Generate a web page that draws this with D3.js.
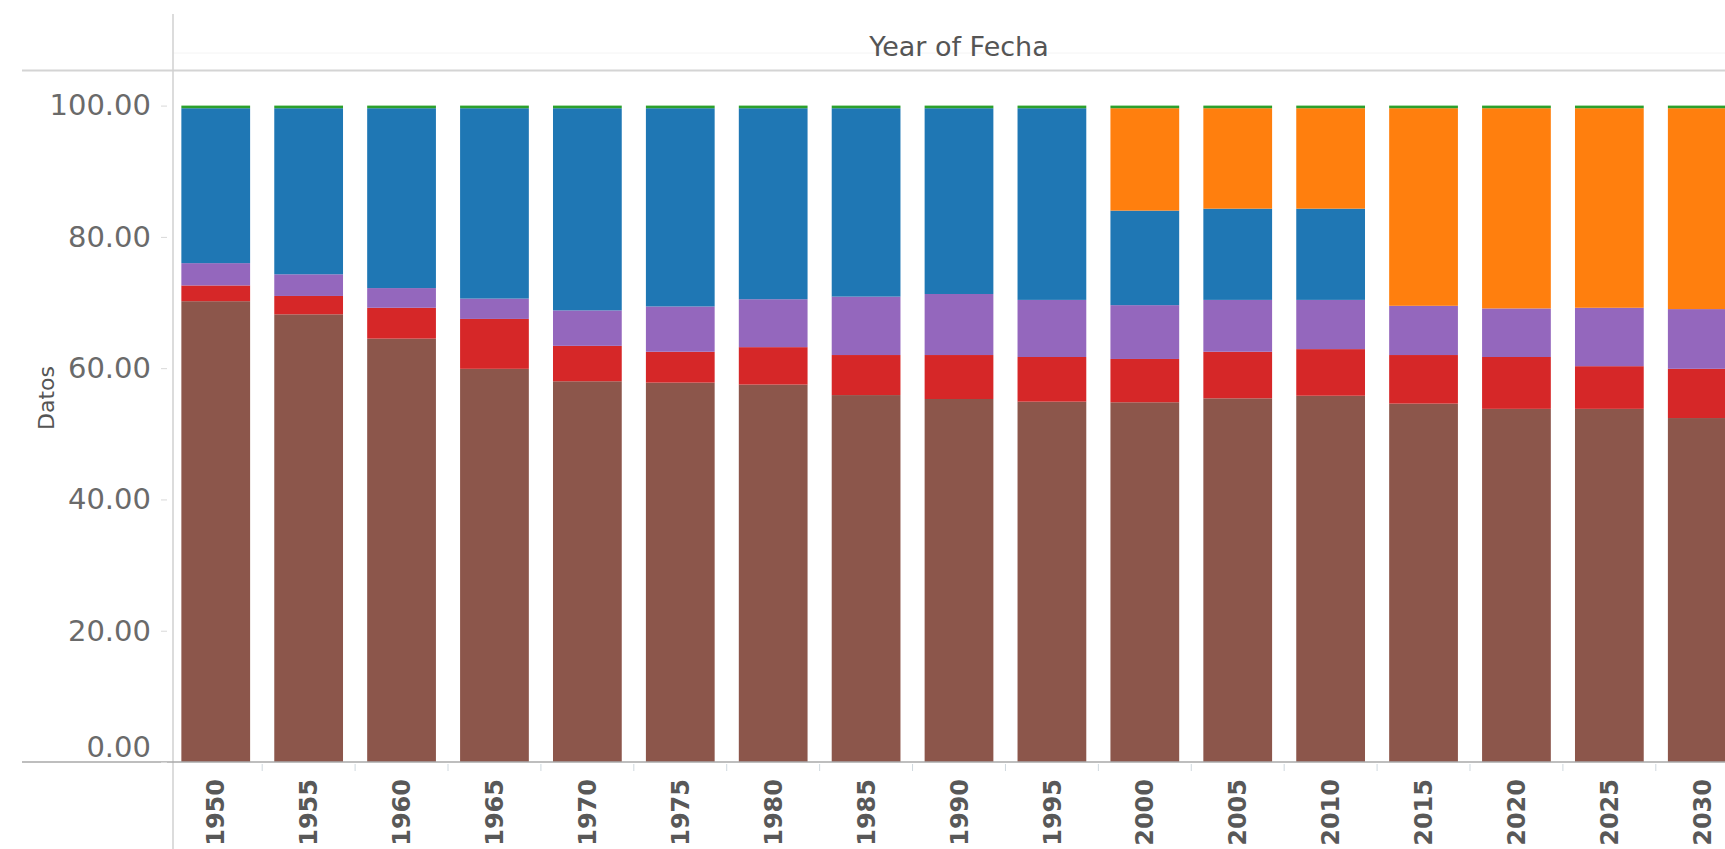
<!DOCTYPE html>
<html>
<head>
<meta charset="utf-8">
<script src="https://cdn.jsdelivr.net/npm/d3@7"></script>
<style>
  html, body { margin: 0; padding: 0; background: #fff; overflow: hidden; }
  svg { display: block; }
</style>
</head>
<body>
<svg id="chart" width="1725" height="849"></svg>
<script>
const years = ["1950","1955","1960","1965","1970","1975","1980","1985","1990","1995","2000","2005","2010","2015","2020","2025","2030"];
const brown  = [70.2, 68.2, 64.5, 59.9, 58.0, 57.8, 57.5, 55.9, 55.3, 54.9, 54.8, 55.4, 55.8, 54.6, 53.8, 53.8, 52.4];
const red    = [2.4, 2.8, 4.7, 7.6, 5.4, 4.7, 5.7, 6.1, 6.7, 6.8, 6.6, 7.1, 7.1, 7.4, 7.9, 6.5, 7.5];
const purple = [3.4, 3.3, 3.0, 3.1, 5.4, 6.9, 7.3, 8.9, 9.3, 8.7, 8.2, 7.9, 7.5, 7.5, 7.4, 8.9, 9.1];
const blue   = [23.6, 25.3, 27.4, 29.0, 30.8, 30.2, 29.1, 28.7, 28.3, 29.2, 14.4, 13.9, 13.9, 0, 0, 0, 0];
const orange = [0, 0, 0, 0, 0, 0, 0, 0, 0, 0, 15.6, 15.3, 15.3, 30.1, 30.5, 30.4, 30.6];
const green  = [0.4, 0.4, 0.4, 0.4, 0.4, 0.4, 0.4, 0.4, 0.4, 0.4, 0.4, 0.4, 0.4, 0.4, 0.4, 0.4, 0.4];
const yTicks = [0, 20, 40, 60, 80, 100];

const seriesNames = ["brown","red","purple","blue","orange","green"];
const seriesVals = {brown, red, purple, blue, orange, green};
const colors = {brown:"#8c564b", red:"#d62728", purple:"#9467bd", blue:"#1f77b4", orange:"#ff7f0e", green:"#2ca02c"};

const table = years.map((y, i) => {
  const row = {year: y};
  seriesNames.forEach(s => row[s] = seriesVals[s][i]);
  return row;
});

const svg = d3.select("#chart");
const axisX = 173, baseY = 762, topY = 105.6;

const x = d3.scaleBand().domain(years).range([axisX, 1745]).paddingInner(0.26).paddingOuter(0.09);
const y = d3.scaleLinear().domain([0, 100]).range([baseY, topY]);

const stack = d3.stack().keys(seriesNames);
const layers = stack(table);

// header separator lines
svg.append("line").attr("x1", 22).attr("x2", 1725).attr("y1", 70.5).attr("y2", 70.5)
  .attr("stroke", "#d4d4d4").attr("stroke-width", 2);
svg.append("line").attr("x1", axisX).attr("x2", 1725).attr("y1", 53).attr("y2", 53)
  .attr("stroke", "#f4f4f4").attr("stroke-width", 1);

// y axis line
svg.append("line").attr("x1", axisX).attr("x2", axisX).attr("y1", 14).attr("y2", 849)
  .attr("stroke", "#d0d0d0").attr("stroke-width", 1.5);

// bars
svg.append("g").selectAll("g").data(layers).join("g")
  .attr("fill", d => colors[d.key])
  .selectAll("rect").data(d => d).join("rect")
  .attr("x", d => x(d.data.year))
  .attr("width", x.bandwidth())
  .attr("y", d => y(d[1]))
  .attr("height", d => Math.max(0, y(d[0]) - y(d[1])));

// baseline
svg.append("line").attr("x1", 22).attr("x2", 1725).attr("y1", baseY).attr("y2", baseY)
  .attr("stroke", "#a8a8a8").attr("stroke-width", 1.5);

// y axis
const yAxis = d3.axisLeft(y).tickValues(yTicks).tickFormat(d3.format(".2f")).tickSize(6).tickPadding(10);
const gy = svg.append("g").attr("transform", `translate(${axisX - 6},0)`).call(yAxis);
gy.select(".domain").remove();
gy.selectAll(".tick line").attr("stroke", "#d8d8d8");
gy.selectAll(".tick text").attr("fill", "#6a6a6a").style("font-family", "DejaVu Sans, sans-serif").style("font-size", "29px")
  .attr("dy", d => d === 0 ? "-0.2em" : "0.32em");

// x axis
const xAxis = d3.axisBottom(x).tickSize(0).tickPadding(0);
const gx = svg.append("g").attr("transform", `translate(0,${baseY})`).call(xAxis);
gx.select(".domain").remove();
gx.selectAll(".tick text")
  .attr("transform", "rotate(-90)")
  .attr("text-anchor", "end")
  .attr("x", -17)
  .attr("y", 0)
  .attr("dy", "0.36em")
  .attr("fill", "#585858")
  .style("font-family", "DejaVu Sans, sans-serif")
  .style("font-weight", "bold")
  .style("font-size", "24px");

// small separator ticks between categories
const bounds = years.slice(1).map(yr => x(yr) - x.step() * x.paddingInner() / 2);
svg.append("g").selectAll("line").data(bounds).join("line")
  .attr("x1", d => d).attr("x2", d => d).attr("y1", baseY + 2).attr("y2", baseY + 9)
  .attr("stroke", "#cfd8de").attr("stroke-width", 1);

// titles
svg.append("text").attr("x", 959).attr("y", 56).attr("text-anchor", "middle")
  .attr("fill", "#555").style("font-family", "DejaVu Sans, sans-serif").style("font-size", "27px")
  .text("Year of Fecha");
svg.append("text").attr("transform", "translate(54,398) rotate(-90)").attr("text-anchor", "middle")
  .attr("fill", "#555").style("font-family", "DejaVu Sans, sans-serif").style("font-size", "22px")
  .text("Datos");
</script>
</body>
</html>
